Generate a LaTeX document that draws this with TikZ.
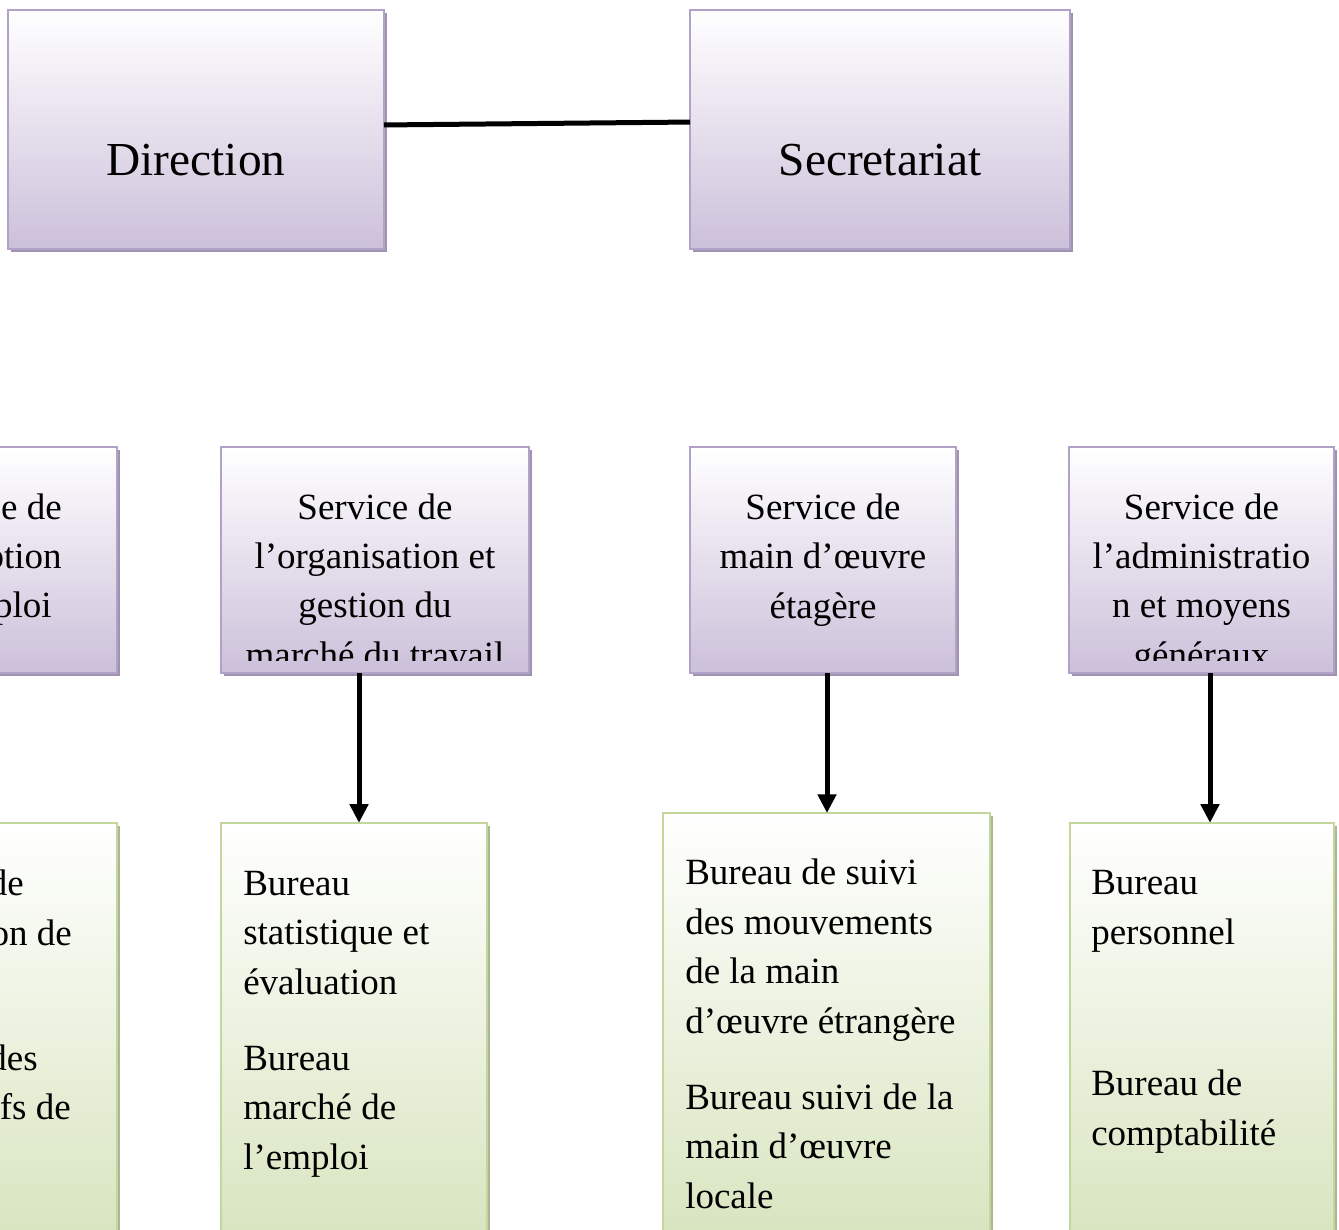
\documentclass[tikz,border=0pt]{standalone}
\usepackage{fontspec}
\setmainfont{Liberation Serif}
\usetikzlibrary{shadows,arrows.meta}
\definecolor{pborder}{RGB}{179,162,199}
\definecolor{pbot}{RGB}{204,192,218}
\definecolor{pshadow}{RGB}{158,148,176}
\definecolor{gborder}{RGB}{195,214,155}
\definecolor{gbot}{RGB}{214,227,188}
\definecolor{gshadow}{RGB}{172,182,152}
\tikzset{
  x=0.75pt, y=-0.75pt,
  pbox/.style={draw=pborder, line width=1.5pt, top color=white, bottom color=pbot,
    drop shadow={shadow xshift=2.2pt, shadow yshift=-2.2pt, fill=pshadow, opacity=1},
    inner sep=0pt, outer sep=0pt},
  gbox/.style={draw=gborder, line width=1.5pt, top color=white, bottom color=gbot,
    drop shadow={shadow xshift=2.2pt, shadow yshift=-2.2pt, fill=gshadow, opacity=1},
    inner sep=0pt, outer sep=0pt},
  bigtext/.style={font=\fontsize{35.5}{42}\selectfont, inner sep=0pt, anchor=base},
  ptext/.style={font=\fontsize{27.75}{36.8}\selectfont, align=center, inner sep=0pt, anchor=base},
  frag/.style={font=\fontsize{27.75}{36.8}\selectfont, inner sep=0pt, anchor=base east},
  gtext/.style={font=\fontsize{27.75}{37.1}\selectfont, align=left, inner sep=0pt, anchor=base west},
  conn/.style={line width=3.75pt, black},
  arr/.style={line width=3.75pt, black, -{Triangle[width=13.5pt,length=14pt]}}
}
\begin{document}
\begin{tikzpicture}
\useasboundingbox (0,0) rectangle (1339,1229);
\clip (0,0) rectangle (1339,1229);
\fill[white] (0,0) rectangle (1339,1229);

% top row
\node[pbox, minimum width=282pt, minimum height=179.25pt] (dir) at (196,129.5) {};
\node[pbox, minimum width=285pt, minimum height=179.25pt] (sec) at (880,129.5) {};
\node[bigtext] (dirt) at (196,175) {Direction};
\node[bigtext] (sect) at (880,175) {Secretariat};
\draw[conn] ([yshift=3.4pt]dir.east) -- ([yshift=5.6pt]sec.west);

% service row
\node[pbox, minimum width=199.5pt, minimum height=169.5pt] (sa) at (-16,560) {};
\node[pbox, minimum width=231pt, minimum height=169.5pt] (sb) at (375,560) {};
\node[pbox, minimum width=199.5pt, minimum height=169.5pt] (sc) at (823,560) {};
\node[pbox, minimum width=198.75pt, minimum height=169.5pt] (sd) at (1201.5,560) {};

\node[frag] (sa1) at (62,519) {e de};
\node[frag] (sa2) at (62,568) {ption};
\node[frag] (sa3) at (52,617) {ploi};

\begin{scope}
  \clip (221,447) rectangle (529,660);
  \node[ptext] (sbt) at (375,667) {Service de\\l’organisation et\\gestion du\\marché du travail};
\end{scope}
\node[ptext] (sct) at (823,618) {Service de\\main d’œuvre\\étagère};
\begin{scope}
  \clip (1069,447) rectangle (1334,660);
  \node[ptext] (sdt) at (1201.5,667) {Service de\\l’administratio\\n et moyens\\généraux};
\end{scope}

% bureau row
\node[gbox, minimum width=199.5pt, minimum height=328pt] (ba) at (-16,1041.5) {};
\node[gbox, minimum width=199.5pt, minimum height=328pt] (bb) at (354,1041.5) {};
\node[gbox, minimum width=245.25pt, minimum height=335.25pt] (bc) at (826.5,1036.5) {};
\node[gbox, minimum width=198pt, minimum height=328pt] (bd) at (1202,1041.5) {};

\node[frag] (ba1) at (24,895) {de};
\node[frag] (ba2) at (72,945) {on de};
\node[frag] (ba3) at (38,1070) {des};
\node[frag] (ba4) at (71,1119) {fs de};

\node[gtext] (bb1) at (243,994) {Bureau\\statistique et\\évaluation};
\node[gtext] (bb2) at (243,1169) {Bureau\\marché de\\l’emploi};

\node[gtext] (bc1) at (685,1033) {Bureau de suivi\\des mouvements\\de la main\\d’œuvre étrangère};
\node[gtext] (bc2) at (685,1208) {Bureau suivi de la\\main d’œuvre\\locale};

\node[gtext] (bd1) at (1091,944) {Bureau\\personnel};
\node[gtext] (bd2) at (1091,1145) {Bureau de\\comptabilité};

% arrows
\coordinate (xb) at (359,0);
\coordinate (xc) at (827,0);
\coordinate (xd) at (1210,0);
\draw[arr] (sb.south -| xb) -- (bb.north -| xb);
\draw[arr] (sc.south -| xc) -- (bc.north -| xc);
\draw[arr] (sd.south -| xd) -- (bd.north -| xd);
\end{tikzpicture}
\end{document}
